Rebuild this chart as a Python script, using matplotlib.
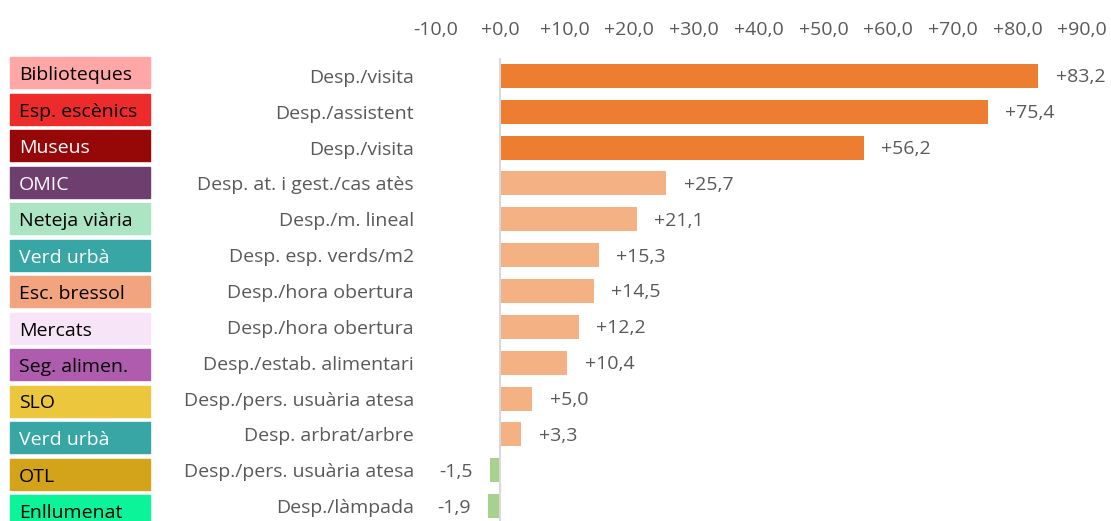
import matplotlib
matplotlib.use('Agg')
import matplotlib.pyplot as plt
from matplotlib.patches import Rectangle

plt.rcParams['font.family'] = ['Open Sans', 'DejaVu Sans']

# dades
serveis = ['Biblioteques', 'Esp. escènics', 'Museus', 'OMIC', 'Neteja viària',
           'Verd urbà', 'Esc. bressol', 'Mercats', 'Seg. alimen.', 'SLO',
           'Verd urbà', 'OTL', 'Enllumenat']
indicadors = ['Desp./visita', 'Desp./assistent', 'Desp./visita',
              'Desp. at. i gest./cas atès', 'Desp./m. lineal',
              'Desp. esp. verds/m2', 'Desp./hora obertura', 'Desp./hora obertura',
              'Desp./estab. alimentari', 'Desp./pers. usuària atesa',
              'Desp. arbrat/arbre', 'Desp./pers. usuària atesa', 'Desp./làmpada']
valors = [83.2, 75.4, 56.2, 25.7, 21.1, 15.3, 14.5, 12.2, 10.4, 5.0, 3.3, -1.5, -1.9]
eix_ticks = [-10, 0, 10, 20, 30, 40, 50, 60, 70, 80, 90]

colors_servei = ['#FFA6A6', '#EE2B2B', '#960808', '#6E3F6E', '#ABE5C3',
                 '#38A6A5', '#F2A47E', '#F8E4F7', '#B05CAE', '#ECC63C',
                 '#38A6A5', '#D3A31A', '#0BF49A']
text_servei = ['black', 'black', 'white', 'white', 'black', 'white', 'black',
               'black', 'black', 'black', 'white', 'black', 'black']


def color_barra(i, v):
    if v < 0:
        return '#A9D18E'
    if i < 3:
        return '#ED7D31'
    return '#F4B183'


def fmt(v):
    return ('+' if v >= 0 else '-') + f'{abs(v):.1f}'.replace('.', ',')


W, H = 1111, 521
fig = plt.figure(figsize=(W / 100, H / 100), dpi=100)

# eix: -10 a x=435, +90 a x=1082, fila 0 a y=76
x0, x1 = 435.3, 1082.3
y_top = 58
row_h = 35.85
n = len(valors)
y_bottom_row = (H - y_top) / row_h - 0.5
ax = fig.add_axes([x0 / W, 0, (x1 - x0) / W, (H - y_top) / H])
ax.set_xlim(-10, 90)
ax.set_ylim(y_bottom_row, -0.5)

ys = list(range(n))
ax.barh(ys, valors, height=0.67, color=[color_barra(i, v) for i, v in enumerate(valors)])
ax.axvline(0, color='#D9D9D9', lw=1.5, zorder=3)

for y, v in zip(ys, valors):
    if v >= 0:
        ax.annotate(fmt(v), (v, y), xytext=(12.5, -1), textcoords='offset points',
                    ha='left', va='center', fontsize=14, color='#595959')
    else:
        ax.annotate(fmt(v), (v, y), xytext=(-12.5, -1), textcoords='offset points',
                    ha='right', va='center', fontsize=14, color='#595959')

ax.xaxis.tick_top()
ax.set_xticks(eix_ticks)
ax.set_xticklabels([fmt(t) for t in eix_ticks])
ax.tick_params(axis='x', length=0, pad=14, labelsize=14, labelcolor='#595959')
ax.set_yticks(ys)
ax.set_yticklabels(indicadors)
ax.tick_params(axis='y', length=0, pad=15.5, labelsize=14, labelcolor='#595959')
for s in ax.spines.values():
    s.set_visible(False)

# caixes de servei a l'esquerra
for i, (nom, c, tc) in enumerate(zip(serveis, colors_servei, text_servei)):
    cy = 72.5 + 36.5 * i
    fig.patches.append(Rectangle((10 / W, 1 - (cy + 15.5) / H), 140 / W, 31 / H,
                                 transform=fig.transFigure, color=c, zorder=1))
    fig.text(19 / W, 1 - (cy + 2.5) / H, nom, ha='left', va='center',
             fontsize=14, color=tc)

plt.savefig('out.png', dpi=100)
